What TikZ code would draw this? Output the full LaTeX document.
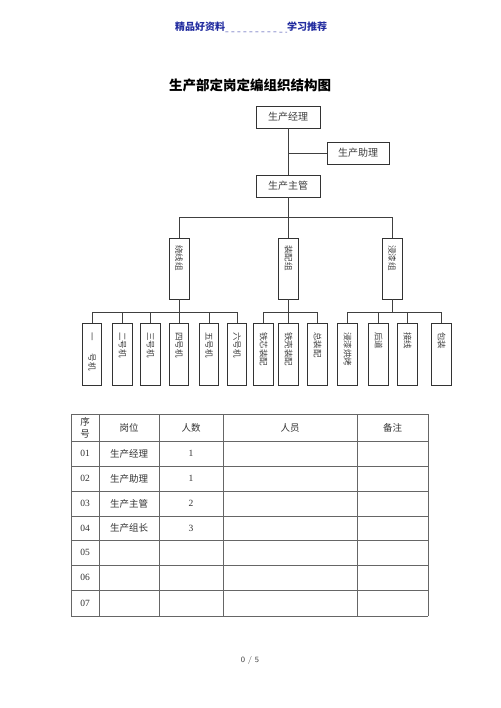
\documentclass[tikz,border=0pt]{standalone}
\usepackage{fontspec}
\newfontfamily\cjk{Noto Sans CJK SC}
\newfontfamily\digits{Liberation Serif}
\definecolor{hblue}{RGB}{35,45,160}
\begin{document}
\begin{tikzpicture}[x=1pt,y=-1pt,
 box/.style={draw=black!80, line width=0.7pt, inner sep=0pt},
 lbl/.style={font=\cjk\fontsize{10}{12}\selectfont, text=black!75},
 hbox/.style={box, lbl, minimum height=22pt},
 vbox/.style={box, minimum width=19.5pt, minimum height=62pt},
 gbox/.style={box, minimum width=20pt, minimum height=61pt},
 vlbl/.style={font=\cjk\fontsize{8.5}{10}\selectfont, text=black!75, rotate=-90, anchor=west, inner sep=0pt},
 conn/.style={draw=black!75, line width=0.7pt},
 grid/.style={draw=black!60, line width=0.7pt},
 cell/.style={font=\cjk\fontsize{9.5}{11}\selectfont, text=black!80, inner sep=0pt},
 num/.style={font=\digits\fontsize{9.5}{11}\selectfont, text=black!80, inner sep=0pt},
 hdr/.style={font=\cjk\bfseries\fontsize{10}{12}\selectfont, text=hblue, inner sep=0pt}]
\useasboundingbox[fill=white] (0,0) rectangle (500,708);

% header
\node[hdr, anchor=west] (h1) at (175,27) {精品好资料};
\node[hdr, anchor=west] (h2) at (287,27) {学习推荐};
\draw[hblue, dashed, line width=0.5pt] (h1.south east) -- (h2.south west);

% title
\node[font=\cjk\bfseries\fontsize{13.5}{15}\selectfont, text=black, inner sep=0pt] (title) at (250,85) {生产部定岗定编组织结构图};

% top boxes
\node[hbox, minimum width=64pt] (mgr) at (288,117) {生产经理};
\node[hbox, minimum width=62pt] (asst) at (358,153) {生产助理};
\node[hbox, minimum width=64pt] (sup) at (288,186) {生产主管};
\draw[conn] (mgr.south) -- (sup.north);
\draw[conn] (asst.west) -- (asst.west -| mgr.south);

% groups
\node[gbox] (g1) at (179,268.5) {};
\node[gbox] (g2) at (288.5,268.5) {};
\node[gbox] (g3) at (392,268.5) {};
\node[vlbl] (g1t) at (179,245) {绕线组};
\node[vlbl] (g2t) at (288.5,245) {装配组};
\node[vlbl] (g3t) at (392,245) {浸漆组};
\coordinate (b1) at (288,217);
\draw[conn] (sup.south) -- (b1);
\draw[conn] (g1.north) -- (g1.north |- b1) -- (g3.north |- b1) -- (g3.north);
\draw[conn] (g2.north) -- (g2.north |- b1);

% machines
\coordinate (b2) at (0,312);
\foreach \n/\x/\t/\g in {m1/92/{一\hspace{13pt}号机}/g1, m2/122.5/二号机/g1, m3/150.5/三号机/g1, m4/179/四号机/g1, m5/209/五号机/g1, m6/237/六号机/g1,
  m7/263.5/铁芯装配/g2, m8/288.5/铁壳装配/g2, m9/317.5/总装配/g2,
  m10/347.5/浸漆烘烤/g3, m11/378.5/后道/g3, m12/407.5/接线/g3, m13/441.5/包装/g3}{
  \node[vbox] (\n) at (\x,354) {};
  \node[vlbl] (\n t) at (\x,332) {\t};
  \draw[conn] (\n.north) -- (\n.north |- b2);
}
\draw[conn] (g1.south) -- (g1.south |- b2);
\draw[conn] (g2.south) -- (g2.south |- b2);
\draw[conn] (g3.south) -- (g3.south |- b2);
\draw[conn] (m1.north |- b2) -- (m6.north |- b2);
\draw[conn] (m7.north |- b2) -- (m9.north |- b2);
\draw[conn] (m10.north |- b2) -- (m13.north |- b2);

% table
\foreach \x in {71,99,159,223,357,428} \draw[grid] (\x,414) -- (\x,616);
\foreach \y in {414,441,466,491,516,540,565,590,616} \draw[grid] (71,\y) -- (428,\y);
\node[cell, align=center] (c00) at (85,427.5) {序\\[1pt]号};
\node[cell] (c01) at (129,427.5) {岗位};
\node[cell] (c02) at (191,427.5) {人数};
\node[cell] (c03) at (290,427.5) {人员};
\node[cell] (c04) at (392.5,427.5) {备注};
\foreach \i/\y/\r/\k in {1/453.5/生产经理/1, 2/478.5/生产助理/1, 3/503.5/生产主管/2, 4/528/生产组长/3}{
  \node[num] (r\i a) at (85,\y) {0\i};
  \node[cell] (r\i b) at (129,\y) {\r};
  \node[num] (r\i c) at (191,\y) {\k};
}
\node[num] (r5a) at (85,552.5) {05};
\node[num] (r6a) at (85,577.5) {06};
\node[num] (r7a) at (85,603) {07};

% page number
\node[font=\fontsize{8}{9}\selectfont\sffamily, text=black!75] (pg) at (250,660) {0 / 5};
\end{tikzpicture}
\end{document}
